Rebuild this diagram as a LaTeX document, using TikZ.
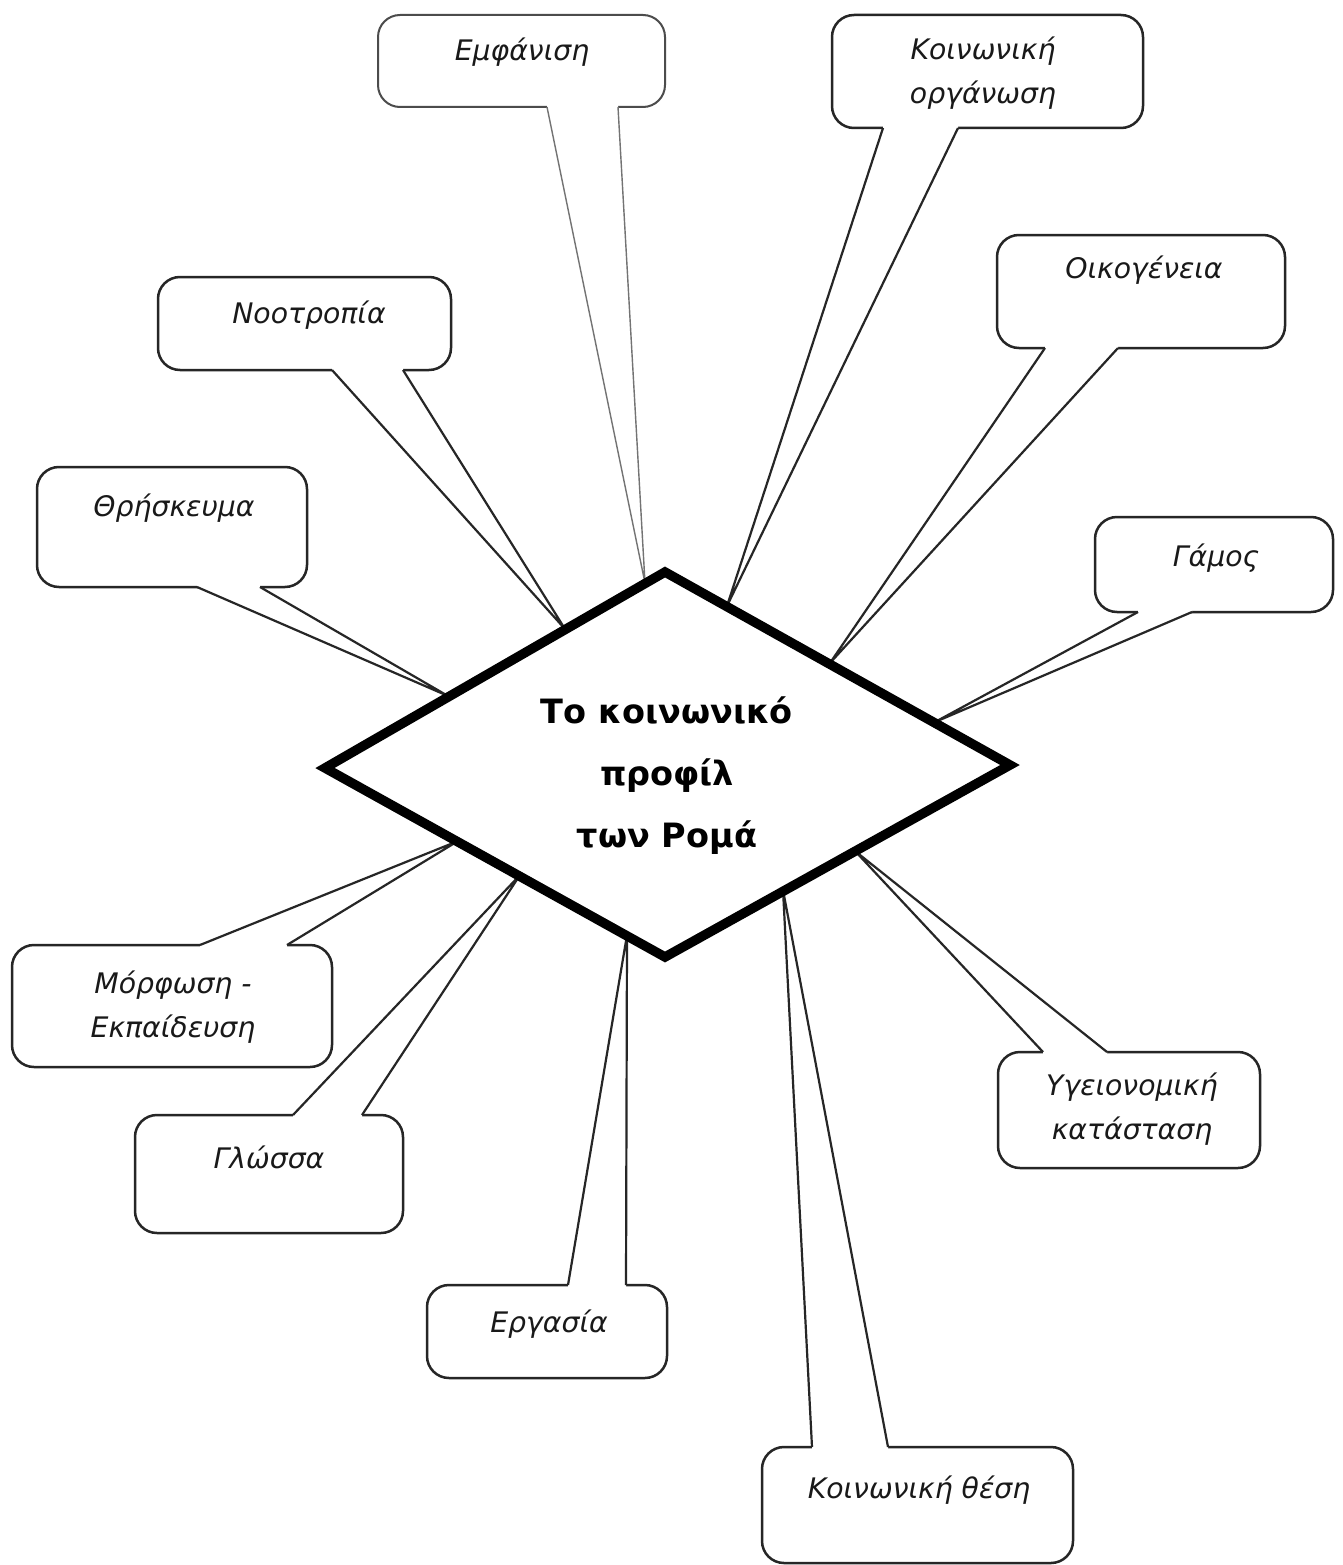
\documentclass[tikz,border=0pt]{standalone}
\usepackage{fontspec}
\setmainfont{DejaVu Sans}
\usetikzlibrary{calc}
\tikzset{
  cbox/.style={draw=black!85, line width=2.5pt, rounded corners=22pt, fill=white, anchor=north west, inner sep=0pt, outer sep=0pt},
  wline/.style={draw=black!85, line width=2.2pt, line join=miter},
  ctext/.style={font=\itshape\fontsize{28.3}{44}\selectfont, align=center, inner sep=0pt, text=black!90},
  faint/.style={draw=black!55, line width=1.4pt},
}
\newcommand\callwedge[5][]{%
  \fill[white] ($(#2)+(0,#5)$) -- (#2) -- (#4) -- (#3) -- ($(#3)+(0,#5)$) -- cycle;
  \draw[wline,#1] (#2) -- (#4) -- (#3);}
\begin{document}
\begin{tikzpicture}[x=1pt,y=-1pt]
\useasboundingbox (0,0) rectangle (1342,1565);
\fill[white] (0,0) rectangle (1342,1565);
% diamond corners
\coordinate (dL) at (325,768);
\coordinate (dT) at (665,572);
\coordinate (dR) at (1010,765);
\coordinate (dB) at (665,957);

% 1 Emfanisi
\node[cbox, draw=black!70, line width=2pt, minimum width=287pt, minimum height=92pt] (emf) at (378,15) {};
\coordinate (emfA) at (547,107); \coordinate (emfB) at (618,107); \coordinate (emfT) at (645,583);
\callwedge[faint]{emfA}{emfB}{emfT}{-4}
\node[ctext] (emfx) at (522,52) {Εμφάνιση};

% 2 Koinoniki organosi
\node[cbox, minimum width=311pt, minimum height=113pt] (org) at (832,15) {};
\coordinate (orgA) at (883,128); \coordinate (orgB) at (958,128); \coordinate (orgT) at (727,606);
\callwedge{orgA}{orgB}{orgT}{-4}
\node[ctext] (orgx) at (983,73) {Κοινωνική\\οργάνωση};

% 3 Oikogeneia
\node[cbox, minimum width=288pt, minimum height=113pt] (oik) at (997,235) {};
\coordinate (oikA) at (1045,348); \coordinate (oikB) at (1118,348); \coordinate (oikT) at (830,663);
\callwedge{oikA}{oikB}{oikT}{-4}
\node[ctext] (oikx) at (1144,270) {Οικογένεια};

% 4 Gamos
\node[cbox, minimum width=238pt, minimum height=95pt] (gam) at (1095,517) {};
\coordinate (gamA) at (1138,612); \coordinate (gamB) at (1192,612); \coordinate (gamT) at (935,722);
\callwedge{gamA}{gamB}{gamT}{-4}
\node[ctext] (gamx) at (1216,558) {Γάμος};

% 5 Ygeionomiki katastasi
\node[cbox, minimum width=262pt, minimum height=116pt] (ygi) at (998,1052) {};
\coordinate (ygiA) at (1043,1052); \coordinate (ygiB) at (1107,1052); \coordinate (ygiT) at (855,851);
\callwedge{ygiA}{ygiB}{ygiT}{4}
\node[ctext] (ygix) at (1132,1109) {Υγειονομική\\κατάσταση};

% 6 Koinoniki thesi
\node[cbox, minimum width=311pt, minimum height=116pt] (the) at (762,1447) {};
\coordinate (theA) at (812,1447); \coordinate (theB) at (888,1447); \coordinate (theT) at (783,890);
\callwedge{theA}{theB}{theT}{4}
\node[ctext] (thex) at (919,1490) {Κοινωνική θέση};

% 7 Ergasia
\node[cbox, minimum width=240pt, minimum height=93pt] (erg) at (427,1285) {};
\coordinate (ergA) at (568,1285); \coordinate (ergB) at (626,1285); \coordinate (ergT) at (627,935);
\callwedge{ergA}{ergB}{ergT}{4}
\node[ctext] (ergx) at (549,1324) {Εργασία};

% 8 Glossa
\node[cbox, minimum width=268pt, minimum height=118pt] (glo) at (135,1115) {};
\coordinate (gloA) at (293,1115); \coordinate (gloB) at (362,1115); \coordinate (gloT) at (520,875);
\callwedge{gloA}{gloB}{gloT}{4}
\node[ctext] (glox) at (269,1157) {Γλώσσα};

% 9 Morfosi - Ekpaideusi
\node[cbox, minimum width=320pt, minimum height=122pt] (mor) at (12,945) {};
\coordinate (morA) at (200,945); \coordinate (morB) at (287,945); \coordinate (morT) at (458,841);
\callwedge{morA}{morB}{morT}{4}
\node[ctext] (morx) at (173,1007) {Μόρφωση -\\Εκπαίδευση};

% 10 Thriskeuma
\node[cbox, minimum width=270pt, minimum height=120pt] (thr) at (37,467) {};
\coordinate (thrA) at (197,587); \coordinate (thrB) at (260,587); \coordinate (thrT) at (448,696);
\callwedge{thrA}{thrB}{thrT}{-4}
\node[ctext] (thrx) at (174,508) {Θρήσκευμα};

% 11 Nootropia
\node[cbox, minimum width=293pt, minimum height=93pt] (noo) at (158,277) {};
\coordinate (nooA) at (332,370); \coordinate (nooB) at (403,370); \coordinate (nooT) at (565,629);
\callwedge{nooA}{nooB}{nooT}{-4}
\node[ctext] (noox) at (309,315) {Νοοτροπία};

% central diamond
\draw[line width=9.5pt, fill=white, line join=miter] (dL) -- (dT) -- (dR) -- (dB) -- cycle;
\node[font=\bfseries\fontsize{33.5}{62}\selectfont, align=center, inner sep=0pt] (hub) at (667,776) {Το κοινωνικό\\προφίλ\\των Ρομά};
\end{tikzpicture}
\end{document}
